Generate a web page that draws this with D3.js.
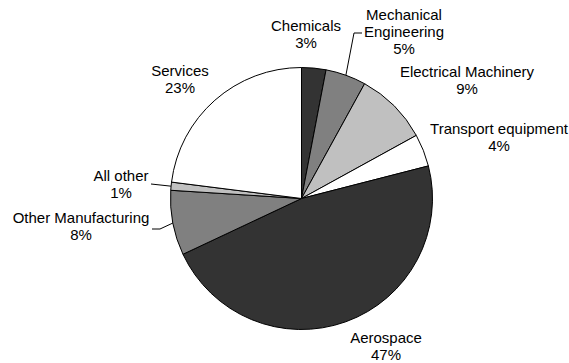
<!DOCTYPE html>
<html>
<head>
<meta charset="utf-8">
<script src="https://cdn.jsdelivr.net/npm/d3@7"></script>
<style>
  html, body { margin: 0; padding: 0; background: #fff; }
  svg { display: block; }
  text { font-family: "Liberation Sans", Arial, sans-serif; font-size: 15px; fill: #000; }
</style>
</head>
<body>
<svg id="chart" width="569" height="363"></svg>
<script>
// Sector shares (percent), clockwise from 12 o'clock
const categories = ["Chemicals", "Mechanical Engineering", "Electrical Machinery",
  "Transport equipment", "Aerospace", "Other Manufacturing", "All other", "Services"];
const shares = [3, 5, 9, 4, 47, 8, 1, 23];
const fills = ["#333333", "#808080", "#c0c0c0", "#ffffff", "#333333", "#808080", "#c0c0c0", "#ffffff"];

// Label lines (category name may wrap) and anchor points of each label block
const labelLines = [["Chemicals"], ["Mechanical", "Engineering"], ["Electrical Machinery"],
  ["Transport equipment"], ["Aerospace"], ["Other Manufacturing"], ["All other"], ["Services"]];
const labelPos = [[306, 31], [404, 20], [467, 77], [499, 134], [386, 343], [81, 223], [121, 181], [180, 76]];
// Leader lines: index of the slice, and where the line leaves the label
const leaders = [
  { i: 1, from: [362, 33], elbow: [354, 33] },
  { i: 6, from: [151, 184], elbow: [151, 184] },
  { i: 5, from: [152, 229], elbow: [160, 229] }
];

const svg = d3.select("#chart");
const cx = 301.5, cy = 198.5, r = 131;
const lineH = 17;

const pie = d3.pie().sort(null).value(d => d);
const arcs = pie(shares);
const arc = d3.arc().innerRadius(0).outerRadius(r);

const g = svg.append("g").attr("transform", `translate(${cx},${cy})`);
g.selectAll("path.slice")
  .data(arcs)
  .join("path")
  .attr("class", "slice")
  .attr("d", arc)
  .attr("fill", (d, i) => fills[i])
  .attr("stroke", "#000")
  .attr("stroke-width", 1)
  .attr("stroke-linejoin", "round");

// Leader lines from labels to the outer edge of their slices
const edgePoint = a => {
  const m = (a.startAngle + a.endAngle) / 2;
  return [cx + r * Math.sin(m), cy - r * Math.cos(m)];
};
svg.selectAll("path.leader")
  .data(leaders)
  .join("path")
  .attr("class", "leader")
  .attr("fill", "none")
  .attr("stroke", "#000")
  .attr("stroke-width", 1)
  .attr("d", d => {
    const p = edgePoint(arcs[d.i]);
    return d3.line()([d.from, d.elbow, p]);
  });

// Category labels with percentages
const labels = svg.selectAll("text.label")
  .data(arcs)
  .join("text")
  .attr("class", "label")
  .attr("text-anchor", "middle")
  .attr("x", (d, i) => labelPos[i][0])
  .attr("y", (d, i) => labelPos[i][1]);

labels.each(function (d, i) {
  const t = d3.select(this);
  const lines = labelLines[i].concat([d3.format(".0f")(shares[i]) + "%"]);
  lines.forEach((s, k) => {
    t.append("tspan")
      .attr("x", labelPos[i][0])
      .attr("dy", k === 0 ? 0 : lineH)
      .text(s);
  });
});
</script>
</body>
</html>
